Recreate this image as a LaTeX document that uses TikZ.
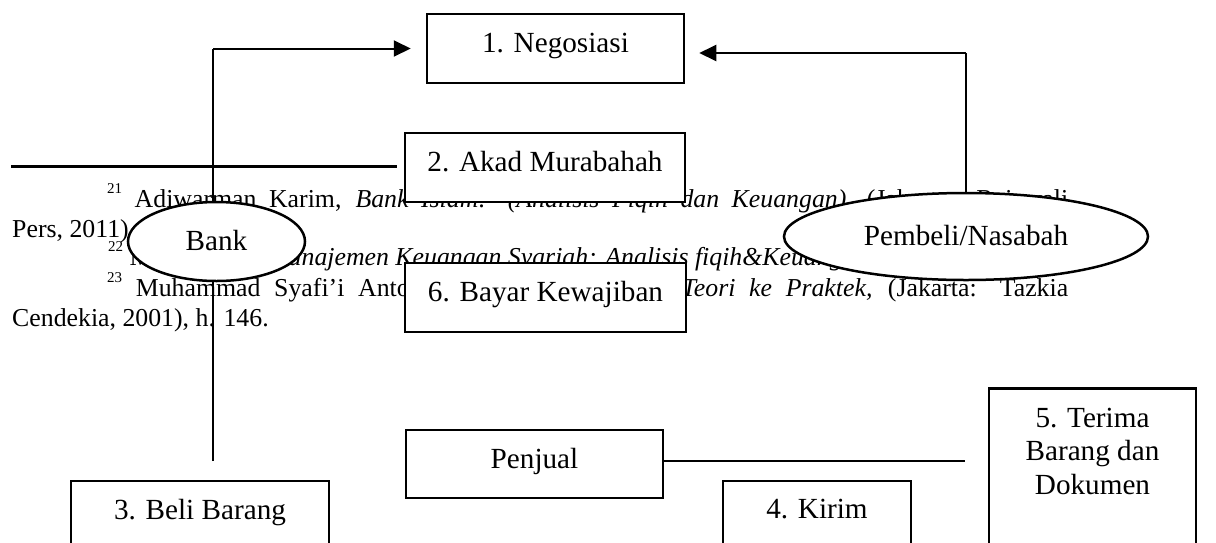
\documentclass[tikz,border=0pt]{standalone}
\usepackage{fontspec}
\setmainfont{Liberation Serif}
\usetikzlibrary{shapes.geometric,arrows.meta}
\pgfdeclarelayer{back}
\pgfdeclarelayer{mid}
\pgfsetlayers{back,mid,main}
\newcommand{\fnmark}[1]{\raisebox{14pt}{\fontsize{15}{15}\selectfont #1}}
\newcommand{\boxfont}{\fontsize{29.2}{33.5}\selectfont}
\newcommand{\fnfont}{\fontsize{25.8}{29.7}\selectfont}
\begin{document}
\begin{tikzpicture}[x=1pt,y=-1pt,
  box/.style={draw,fill=white,line width=2.5pt,rectangle,inner sep=0pt,font=\boxfont,text height=20pt,text depth=12pt},
  oval/.style={draw,fill=white,line width=2.5pt,ellipse,inner sep=0pt,font=\boxfont,text height=20pt,text depth=2pt},
  fn/.style={anchor=base west,inner sep=0pt,font=\fnfont},
  thinline/.style={line width=1.3pt},
  arrowline/.style={line width=2pt,-{Triangle[length=17pt,width=16pt]}},
  footrule/.style={line width=3pt}]
\useasboundingbox (0,0) rectangle (1216,542);
\clip (0,0) rectangle (1216,542);

% boxes and ovals
\node[box,minimum width=257pt,minimum height=69pt] (nego) at (555.5,48.5) {1. Negosiasi};
\node[box,minimum width=280pt,minimum height=69pt] (akad) at (545,167.5) {2. Akad Murabahah};
\node[box,minimum width=281pt,minimum height=69pt] (bayar) at (545.5,297.5) {6. Bayar Kewajiban};
\node[oval,minimum width=177pt,minimum height=79pt] (bank) at (216.5,241.5) {Bank};
\node[oval,minimum width=364pt,minimum height=87pt] (pemb) at (966,236.5) {Pembeli/Nasabah};
\node[box,minimum width=257pt,minimum height=68pt] (penjual) at (534.5,464) {Penjual};
\node[box,minimum width=258pt,minimum height=69pt] (beli) at (200,515.5) {3. Beli Barang};
\node[box,minimum width=188pt,minimum height=66pt] (kirim) at (817,514) {4. Kirim};
\node[box,minimum width=207pt,minimum height=200pt,anchor=north] (terima) at (1092.5,387) {};
\node[font=\boxfont,align=center,inner sep=0pt,anchor=north] (terimatxt) at (1092.5,407.5) {5. Terima\\Barang dan\\Dokumen};

% footnote text underneath
\begin{pgfonlayer}{back}
\fill[white] (0,0) rectangle (1216,542);
\node[fn] (fn1) at (107,207) {\makebox[961pt][s]{\fnmark{21} Adiwarman Karim, \textit{Bank Islam: (Analisis Fiqih dan Keuangan)}, (Jakarta: Rajawali}};
\node[fn] (fn2) at (12,237) {Pers, 2011)};
\node[fn] (fn3) at (108,265) {\fnmark{22} Muhammad, \textit{Manajemen Keuangan Syariah: Analisis fiqih\&Keuangan}};
\node[fn] (fn4) at (107,296) {\makebox[961pt][s]{\fnmark{23} Muhammad Syafi’i Antonio, \textit{Bank Syariah dari Teori ke Praktek,} (Jakarta: Tazkia}};
\node[fn] (fn5) at (12,326) {Cendekia, 2001), h. 146.};
\draw[footrule] (11,166) -- (397,166);
\end{pgfonlayer}

% connectors
\begin{pgfonlayer}{mid}
\coordinate (lstart) at (213,461);
\coordinate (lcorner) at (lstart |- nego.west);
\draw[thinline] (lstart) -- (lcorner);
\draw[arrowline,shorten >=15pt] (lcorner) -- (nego.west);
\coordinate (rcorner) at (966,53);
\draw[thinline] (pemb.north) -- (rcorner);
\draw[arrowline,shorten >=14pt] (rcorner) -- (rcorner -| nego.east);
\coordinate (pend) at (965,461);
\draw[thinline] (penjual.east |- pend) -- (pend);
\end{pgfonlayer}
\end{tikzpicture}
\end{document}
